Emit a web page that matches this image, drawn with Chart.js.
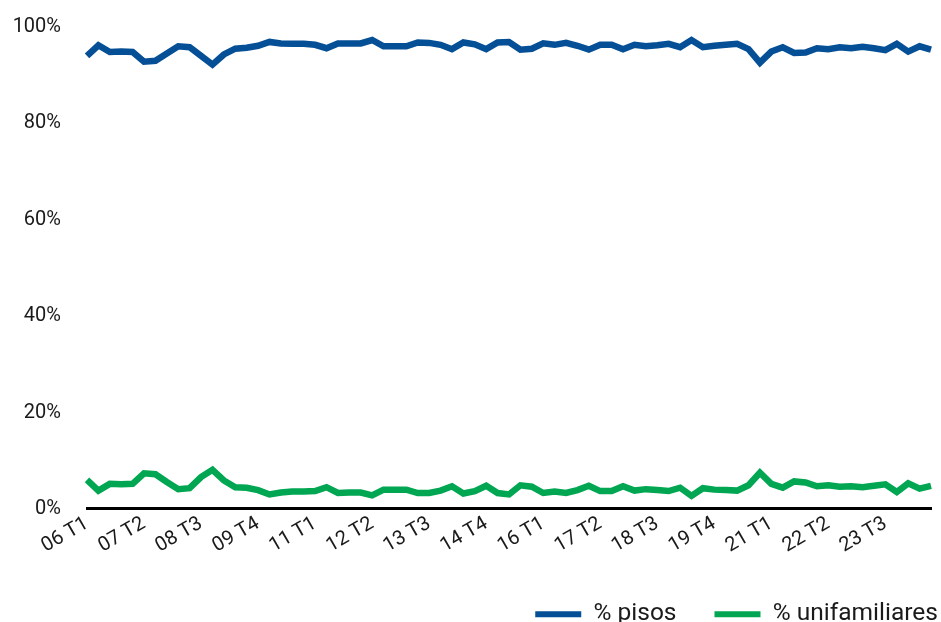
<!DOCTYPE html>
<html>
<head>
<meta charset="utf-8">
<script src="https://cdn.jsdelivr.net/npm/chart.js@4/dist/chart.umd.min.js"></script>
<style>
  html, body { margin: 0; padding: 0; background: #ffffff; }
  #wrap { width: 941px; height: 622px; }
</style>
</head>
<body>
<div id="wrap"><canvas id="chart"></canvas></div>
<script>
// Quarters from 2006 T1 to 2024 T3
const categories = [];
for (let y = 6; y <= 24; y++) {
  for (let q = 1; q <= 4; q++) {
    if (y === 24 && q > 3) break;
    categories.push(String(y).padStart(2, '0') + ' T' + q);
  }
}

// Quarters that get a visible label on the x axis
const tickLabels = ['06 T1', '07 T2', '08 T3', '09 T4', '11 T1', '12 T2', '13 T3', '14 T4',
                    '16 T1', '17 T2', '18 T3', '19 T4', '21 T1', '22 T2', '23 T3'];

// Share of sales of flats (%)
const pisos = [
  94.0, 96.2, 94.8, 94.9, 94.8, 92.8, 93.0, 94.5, 96.0, 95.8,
  94.0, 92.2, 94.3, 95.5, 95.7, 96.1, 96.9, 96.6, 96.5, 96.5,
  96.3, 95.6, 96.6, 96.6, 96.6, 97.3, 96.0, 96.0, 96.0, 96.8,
  96.7, 96.3, 95.4, 96.8, 96.4, 95.4, 96.8, 96.9, 95.3, 95.5,
  96.6, 96.3, 96.7, 96.1, 95.3, 96.3, 96.3, 95.4, 96.3, 96.0,
  96.2, 96.5, 95.8, 97.3, 95.8, 96.1, 96.3, 96.5, 95.4, 92.6,
  94.9, 95.8, 94.6, 94.7, 95.6, 95.4, 95.8, 95.6, 95.9, 95.6,
  95.2, 96.5, 94.9, 96.0, 95.3
];

// Share of sales of single-family houses (%)
const unifamiliares = [
  6.0, 3.8, 5.2, 5.1, 5.2, 7.4, 7.2, 5.6, 4.1, 4.3,
  6.6, 8.1, 5.9, 4.5, 4.4, 3.9, 3.0, 3.4, 3.6, 3.6,
  3.7, 4.5, 3.3, 3.4, 3.4, 2.8, 4.0, 4.0, 4.0, 3.3,
  3.3, 3.8, 4.7, 3.2, 3.7, 4.8, 3.3, 3.0, 4.9, 4.6,
  3.3, 3.6, 3.3, 3.9, 4.8, 3.7, 3.7, 4.7, 3.8, 4.1,
  3.9, 3.7, 4.4, 2.7, 4.3, 4.0, 3.9, 3.8, 4.9, 7.5,
  5.2, 4.4, 5.7, 5.5, 4.7, 4.9, 4.6, 4.7, 4.5, 4.8,
  5.1, 3.5, 5.3, 4.2, 4.8
];

const yTicks = [0, 20, 40, 60, 80, 100];

const FONT = "Roboto, 'Liberation Sans', sans-serif";
const TEXT = '#1a1a1a';

// Push the legend row further to the right edge of the canvas
const legendShift = {
  id: 'legendShift',
  afterLayout(chart) {
    if (chart.legend) {
      chart.legend.left += 45;
      chart.legend.right += 45;
    }
  }
};

new Chart(document.getElementById('chart'), {
  type: 'line',
  data: {
    labels: categories,
    datasets: [
      {
        label: '% pisos',
        data: pisos,
        borderColor: '#044f95',
        backgroundColor: '#044f95',
        borderWidth: 6.5,
        pointRadius: 0,
        tension: 0
      },
      {
        label: '% unifamiliares',
        data: unifamiliares,
        borderColor: '#00a651',
        backgroundColor: '#00a651',
        borderWidth: 6.5,
        pointRadius: 0,
        tension: 0
      }
    ]
  },
  plugins: [legendShift],
  options: {
    responsive: true,
    maintainAspectRatio: false,
    animation: false,
    layout: { padding: { left: 12, right: 10, top: 27, bottom: 0 } },
    plugins: {
      tooltip: { enabled: false },
      legend: {
        position: 'bottom',
        align: 'end',
        maxHeight: 58,
        labels: {
          boxWidth: 46,
          boxHeight: 6,
          padding: 38,
          color: TEXT,
          font: { family: FONT, size: 24.5 },
          generateLabels(chart) {
            return Chart.defaults.plugins.legend.labels.generateLabels(chart)
              .map(item => Object.assign(item, { lineWidth: 0 }));
          }
        }
      }
    },
    scales: {
      x: {
        grid: { display: false, drawTicks: false },
        border: { display: true, color: '#000000', width: 3 },
        afterFit(axis) {
          axis.paddingLeft = 0;
          axis.paddingRight = 0;
          axis.height += 3;
        },
        ticks: {
          autoSkip: false,
          minRotation: 30,
          maxRotation: 30,
          padding: 3,
          color: TEXT,
          font: { family: FONT, size: 20 },
          callback: function (value, index) {
            const lab = categories[index];
            return tickLabels.includes(lab) ? lab : '';
          }
        }
      },
      y: {
        min: 0,
        max: 100,
        afterBuildTicks(axis) {
          axis.ticks = yTicks.map(v => ({ value: v }));
        },
        afterFit(axis) {
          axis.width = 75;
          axis.paddingTop = 0;
          axis.paddingBottom = 0;
        },
        grid: { display: false, drawTicks: false },
        border: { display: false },
        ticks: {
          padding: 26,
          color: TEXT,
          font: { family: FONT, size: 20 },
          callback: v => v + '%'
        }
      }
    }
  }
});
</script>
</body>
</html>
